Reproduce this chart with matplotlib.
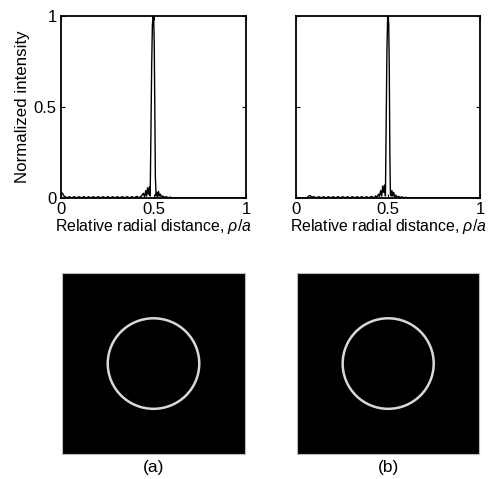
import matplotlib
matplotlib.use("Agg")
import matplotlib.pyplot as plt
from matplotlib.patches import Circle

plt.rcParams['font.family'] = ['Liberation Sans', 'DejaVu Sans']
plt.rcParams['mathtext.fontset'] = 'custom'
plt.rcParams['mathtext.rm'] = 'Liberation Sans'
plt.rcParams['mathtext.it'] = 'Liberation Sans:italic'

# ---- data: normalized intensity vs relative radial distance ----
x_a = [0.000, 0.008, 0.016, 0.024, 0.032, 0.045, 0.058, 0.071, 0.084, 0.097,
       0.110, 0.123, 0.136, 0.149, 0.162, 0.175, 0.188, 0.201, 0.214, 0.227,
       0.240, 0.253, 0.266, 0.279, 0.292, 0.305, 0.318, 0.331, 0.344, 0.357,
       0.370, 0.383, 0.396, 0.409, 0.422, 0.435, 0.445, 0.452, 0.458, 0.463,
       0.468, 0.473, 0.478, 0.482, 0.486, 0.490, 0.494, 0.498, 0.501, 0.504,
       0.507, 0.510, 0.514, 0.518, 0.522, 0.527, 0.532, 0.537, 0.543, 0.550,
       0.560, 0.570, 0.580, 0.590, 0.600, 0.610, 1.000]
y_a = [0.030, 0.025, 0.010, 0.006, 0.000, 0.006, 0.000, 0.006, 0.000, 0.006,
       0.000, 0.006, 0.000, 0.006, 0.000, 0.006, 0.000, 0.006, 0.000, 0.006,
       0.000, 0.006, 0.000, 0.006, 0.000, 0.006, 0.000, 0.006, 0.000, 0.006,
       0.000, 0.006, 0.000, 0.008, 0.000, 0.010, 0.025, 0.005, 0.040, 0.010,
       0.055, 0.020, 0.060, 0.010, 0.350, 0.720, 0.950, 1.000, 0.980, 0.850,
       0.500, 0.120, 0.010, 0.030, 0.005, 0.035, 0.010, 0.020, 0.004, 0.010,
       0.003, 0.006, 0.000, 0.004, 0.000, 0.000, 0.000]

x_b = [0.000, 0.060, 0.068, 0.076, 0.084, 0.097, 0.110, 0.123, 0.136, 0.149,
       0.162, 0.175, 0.188, 0.201, 0.214, 0.227, 0.240, 0.253, 0.266, 0.279,
       0.292, 0.305, 0.318, 0.331, 0.344, 0.357, 0.370, 0.383, 0.396, 0.409,
       0.422, 0.432, 0.440, 0.447, 0.453, 0.459, 0.465, 0.470, 0.475, 0.480,
       0.485, 0.489, 0.493, 0.497, 0.500, 0.503, 0.506, 0.509, 0.512, 0.516,
       0.520, 0.525, 0.530, 0.535, 0.541, 0.548, 0.556, 0.565, 0.575, 0.585,
       0.595, 0.605, 1.000]
y_b = [0.000, 0.000, 0.010, 0.012, 0.004, 0.006, 0.000, 0.006, 0.000, 0.006,
       0.000, 0.006, 0.000, 0.006, 0.000, 0.006, 0.000, 0.006, 0.000, 0.006,
       0.000, 0.006, 0.000, 0.006, 0.000, 0.006, 0.000, 0.006, 0.000, 0.008,
       0.000, 0.010, 0.004, 0.020, 0.008, 0.040, 0.010, 0.065, 0.030, 0.070,
       0.010, 0.400, 0.800, 0.990, 1.000, 0.950, 0.700, 0.250, 0.020, 0.010,
       0.040, 0.010, 0.030, 0.006, 0.015, 0.004, 0.008, 0.002, 0.005, 0.000,
       0.003, 0.000, 0.000]

x_ticks = [0, 0.5, 1]
y_ticks = [0, 0.5, 1]
x_ticklabels = ['0', '0.5', '1']
y_ticklabels = ['0', '0.5', '1']
ring_radius = [0.5, 0.5]   # peak position rho/a for (a) and (b)
panel_labels = ['(a)', '(b)']

fig = plt.figure(figsize=(4.92, 4.79), dpi=100)

top_rects = [[0.124, 0.587, 0.376, 0.380], [0.602, 0.587, 0.374, 0.380]]
bot_rects = [[0.126, 0.052, 0.372, 0.378], [0.604, 0.052, 0.370, 0.378]]
profiles = [(x_a, y_a), (x_b, y_b)]

fs_tick = 12
fs_xlab = 11.4
fs_ylab = 12.2
fs_panel = 12.5
for i in range(2):
    ax = fig.add_axes(top_rects[i])
    xs, ys = profiles[i]
    ax.plot(xs, ys, color='black', lw=1.0)
    ax.set_xlim(0, 1)
    ax.set_ylim(0, 1)
    ax.set_xticks(x_ticks)
    ax.set_xticklabels(x_ticklabels, fontsize=fs_tick)
    ax.set_yticks(y_ticks)
    if i == 0:
        ax.set_yticklabels(y_ticklabels, fontsize=fs_tick)
        ax.set_ylabel('Normalized intensity', fontsize=fs_ylab, labelpad=3)
    else:
        ax.set_yticklabels([])
    ax.tick_params(direction='in', length=3, width=0.8, top=True, right=True, pad=3)
    ax.set_xlabel(r'Relative radial distance, $\it{\rho/a}$', fontsize=fs_xlab, labelpad=0)
    for sp in ax.spines.values():
        sp.set_linewidth(1.3)

    axb = fig.add_axes(bot_rects[i])
    axb.set_facecolor('black')
    axb.set_xlim(-1, 1)
    axb.set_ylim(-1, 1)
    axb.add_patch(Circle((0, 0), ring_radius[i], fill=False,
                         edgecolor='#d8d8d8', lw=1.8))
    axb.set_xticks([])
    axb.set_yticks([])
    for sp in axb.spines.values():
        sp.set_color('#bbbbbb')
        sp.set_linewidth(0.8)
    axb.text(0.5, -0.035, panel_labels[i], transform=axb.transAxes,
             ha='center', va='top', fontsize=fs_panel)

fig.savefig('out.png', dpi=100)
